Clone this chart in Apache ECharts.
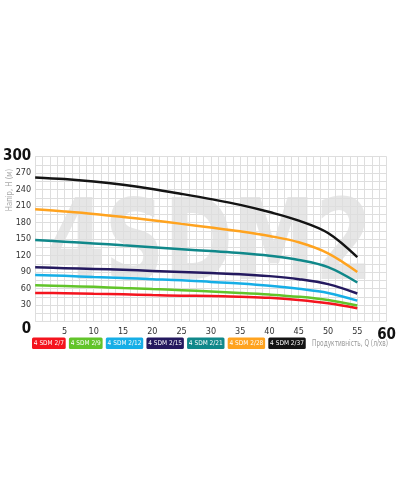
<!DOCTYPE html>
<html><head><meta charset="utf-8">
<script src="https://cdn.jsdelivr.net/npm/echarts@6/dist/echarts.min.js"></script>
<style>html,body{margin:0;padding:0;background:#fff}#c{width:400px;height:500px}</style>
</head><body><div id="c"></div>
<script>
const flows = [0,5,10,15,20,25,30,35,40,45,50,55];
const names = ['4 SDM 2/7','4 SDM 2/9','4 SDM 2/12','4 SDM 2/15','4 SDM 2/21','4 SDM 2/28','4 SDM 2/37'];
const colors = ['#f4141e','#62c42a','#16aee6','#24195f','#10888a','#ffa31f','#141414'];
const h2_7  = [52,51.5,50.5,49.5,48,47,46.5,45,43,39,33,24];
const h2_9  = [66,64.5,63,61,59,57,54.5,52,49,45,39,29];
const h2_12 = [84.5,83,81,79,77,75,72,69,65,59.5,52,38];
const h2_15 = [98.5,97,95.5,94,92,90,88,86,82.5,77,68,51];
const h2_21 = [148,145,142,138.5,135,131.5,128,124.5,119.5,112,99,71];
const h2_28 = [204,200,195.5,190,184,177.5,171,164,155.5,144,124,90];
const h2_37 = [262,259,254.5,248.5,241,232,222.5,212,199,183.5,161,117];
const seriesValues = [h2_7,h2_9,h2_12,h2_15,h2_21,h2_28,h2_37];
const xTicks = {min:0,max:60,step:5};
const yTicks = {min:0,max:300,step:30};
const yName = 'Напір, H (м)';
const xName = 'Продуктивність, Q (л/хв)';
const watermark = '4SDM2';

const FONT = '"DejaVu Sans Condensed","DejaVu Sans",sans-serif';
const chart = echarts.init(document.getElementById('c'), null, {renderer:'canvas'});
const gridColor = '#dedede';
chart.setOption({
  animation:false,
  textStyle:{fontFamily:FONT},
  grid:{left:31.4,right:13.4,top:156.5,bottom:178.5,containLabel:false},
  xAxis:{type:'value',min:xTicks.min,max:xTicks.max,interval:xTicks.step,z:1,
    axisLine:{show:false},axisTick:{show:false},
    splitLine:{show:true,lineStyle:{color:gridColor,width:1}},
    minorTick:{show:false,splitNumber:4},
    minorSplitLine:{show:true,lineStyle:{color:gridColor,width:1}},
    axisLabel:{margin:6,fontSize:9,color:'#333',fontFamily:FONT,
      formatter:v=>v===xTicks.min?'':(v===xTicks.max?'{b|'+v+'}':String(v)),
      rich:{b:{fontSize:15,fontWeight:'bold',color:'#111',fontFamily:FONT}}}},
  yAxis:{type:'value',min:yTicks.min,max:yTicks.max,interval:yTicks.step,z:1,
    axisLine:{show:false},axisTick:{show:false},
    splitLine:{show:true,lineStyle:{color:gridColor,width:1}},
    minorTick:{show:false,splitNumber:2},
    minorSplitLine:{show:true,lineStyle:{color:gridColor,width:1}},
    axisLabel:{margin:4,fontSize:9,color:'#333',fontFamily:FONT,
      formatter:v=>v===yTicks.max?'{b|'+v+'}':(v===yTicks.min?'{z|'+v+'}':String(v)),
      rich:{b:{fontSize:15,fontWeight:'bold',color:'#111',fontFamily:FONT},
            z:{fontSize:15,fontWeight:'bold',color:'#111',fontFamily:FONT,padding:[16,0,0,0]}}}},
  legend:{left:27,top:337.5,itemWidth:0,itemHeight:0,itemGap:-1.8,icon:'none',selectedMode:false,padding:0,
    data:names.map((n,i)=>({name:n,textStyle:{color:'#fff',backgroundColor:colors[i],fontSize:6.5,lineHeight:8,
      fontFamily:FONT,padding:[2,1.8,1.5,1.8],borderRadius:1.5}}))},
  graphic:[
    {type:'text',zlevel:-1,x:40,y:250,style:{text:watermark,fontSize:112,fontWeight:'bold',
      fontFamily:FONT,fill:'#e6e6e6',verticalAlign:'middle'},scaleX:0.82,originX:40},
    {type:'text',z:5,x:10,y:190,rotation:Math.PI/2,scaleX:0.85,style:{text:yName,fontSize:9,fill:'#aaa',
      fontFamily:FONT,align:'center',verticalAlign:'middle'}},
    {type:'text',z:5,x:388,y:344,scaleX:0.72,style:{text:xName,fontSize:9,fill:'#999',
      fontFamily:FONT,align:'right',verticalAlign:'middle'}}
  ],
  series:seriesValues.map((vals,i)=>({type:'line',name:names[i],smooth:0.35,showSymbol:false,
    data:flows.map((q,j)=>[q,vals[j]]),lineStyle:{color:colors[i],width:2.5},itemStyle:{color:colors[i]},z:3+i}))
});
</script></body></html>
